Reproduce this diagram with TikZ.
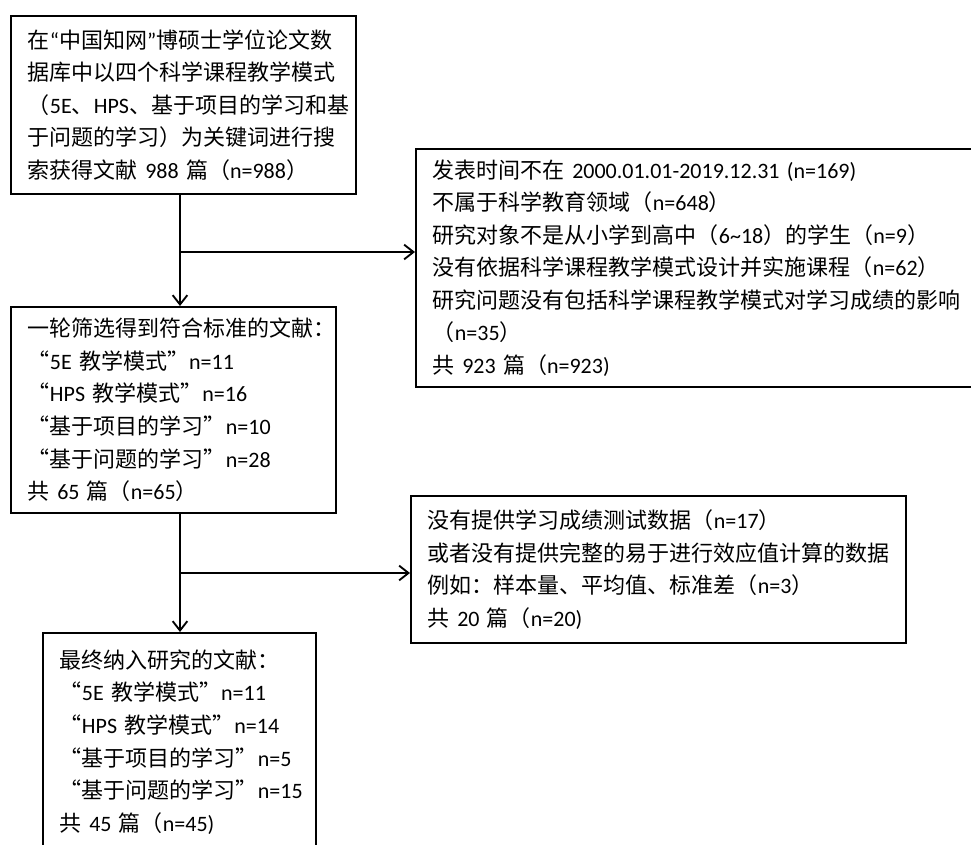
\documentclass[tikz,border=0pt]{standalone}
\usepackage{fontspec}
\setmainfont{Noto Sans CJK SC}
\newfontfamily\enfont{Carlito}
\newcommand{\EN}[1]{{\enfont #1}}
\usetikzlibrary{arrows.meta}

\begin{document}
\begin{tikzpicture}[x=0.75pt, y=-0.75pt, line width=1.4pt,
	box/.style={draw, anchor=north west, align=left, inner xsep=12.75pt, inner ysep=0pt, font=\fontsize{16.5pt}{24.4pt}\selectfont},
	arr/.style={-{Straight Barb[length=7pt, width=11pt]}}]
			\useasboundingbox (0,0) rectangle (971,844);
			\clip (0,0) rectangle (971,844);
			% Left column
			\node[box, text width=233.25pt, minimum height=133.5pt] (search) at (10,15) {在\EN{“}中国知网\EN{”}博硕士学位论文数\\据库中以四个科学课程教学模式\\（\EN{5E}、\EN{HPS}、基于项目的学习和基\\于问题的学习）为关键词进行搜\\索获得文献\EN{ 988 }篇（\EN{n=988}）};
			\node[box, text width=218.25pt, minimum height=154.5pt] (round1) at (10,306) {一轮筛选得到符合标准的文献：\\“\EN{5E }教学模式”\EN{n=11}\\“\EN{HPS }教学模式”\EN{n=16}\\“基于项目的学习”\EN{n=10}\\“基于问题的学习”\EN{n=28}\\共\EN{ 65 }篇（\EN{n=65}）};
			\node[box, text width=179.25pt, minimum height=163.5pt] (final) at (42,632) {最终纳入研究的文献：\\“\EN{5E }教学模式”\EN{n=11}\\“\EN{HPS }教学模式”\EN{n=14}\\“基于项目的学习”\EN{n=5}\\“基于问题的学习”\EN{n=15}\\共\EN{ 45 }篇（\EN{n=45)}};
			% Excluded
			\node[box, text width=409.5pt, minimum height=178.5pt] (excl1) at (415,148) {发表时间不在\EN{ 2000.01.01-2019.12.31 (n=169)}\\不属于科学教育领域（\EN{n=648}）\\研究对象不是从小学到高中（\EN{6\textasciitilde 18}）的学生（\EN{n=9}）\\没有依据科学课程教学模式设计并实施课程（\EN{n=62}）\\研究问题没有包括科学课程教学模式对学习成绩的影响\\（\EN{n=35}）\\共\EN{ 923 }篇（\EN{n=923)}};
			\node[box, text width=345.75pt, minimum height=110.25pt] (excl2) at (410,495) {没有提供学习成绩测试数据（\EN{n=17}）\\或者没有提供完整的易于进行效应值计算的数据\\例如：样本量、平均值、标准差（\EN{n=3}）\\共\EN{ 20 }篇（\EN{n=20)}};
			% Arrows
			\coordinate (split1) at (180,252);
			\coordinate (split2) at (180,573);
			\draw[arr] (search.south -| split1) -- (round1.north -| split1);
			\draw[arr] (split1) -- (split1 -| excl1.west);
			\draw[arr] (round1.south -| split2) -- (final.north -| split2);
			\draw[arr] (split2) -- (split2 -| excl2.west);
		\end{tikzpicture}
\end{document}
